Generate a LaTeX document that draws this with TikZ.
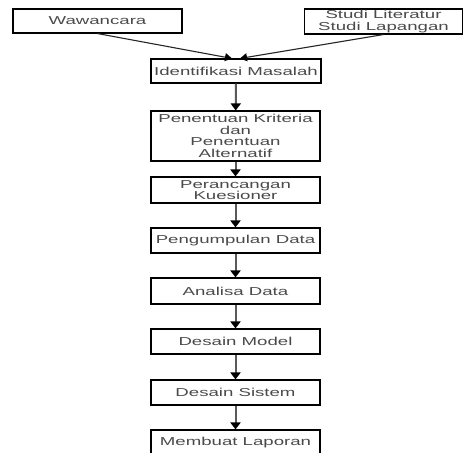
\documentclass[tikz,border=0pt]{standalone}
\usepackage{fontspec}
\setmainfont{Liberation Sans}[FakeStretch=1.62]
\usetikzlibrary{arrows.meta}
\definecolor{txt}{HTML}{4A4A4A}
\definecolor{shaft}{HTML}{5A5A5A}
\begin{document}
\begin{tikzpicture}[x=1pt,y=-1pt,
  box/.style={draw=black,line width=1.1pt,fill=white,inner sep=0pt,align=center,
    text=txt,font=\fontsize{11.5}{11.5}\selectfont,minimum height=24pt},
  flow/.style={draw=shaft,line width=2pt,-{Triangle[length=7pt,width=10pt,black]}},
  conv/.style={draw=black!85,line width=1.1pt,-{Triangle[length=7pt,width=8pt,black]}}]
\useasboundingbox (0,0) rectangle (464,453);
\clip (0,0) rectangle (464,453);
\node[box,minimum width=169pt] (w) at (97.5,21) {Wawancara};
\node[box,minimum width=158pt,minimum height=25pt] (s) at (383.5,21.5) {Studi Literatur\\Studi Lapangan};
\node[box,minimum width=170pt] (id) at (236,71) {Identifikasi Masalah};
\node[box,minimum width=169pt,minimum height=50pt] (pk) at (235.5,136) {Penentuan Kriteria\\dan\\Penentuan\\Alternatif};
\node[box,minimum width=169pt,minimum height=26pt] (pr) at (235.5,190) {Perancangan\\Kuesioner};
\node[box,minimum width=169pt,minimum height=25pt] (pd) at (235.5,240.5) {Pengumpulan Data};
\node[box,minimum width=169pt,minimum height=26pt] (ad) at (235.5,291) {Analisa Data};
\node[box,minimum width=169pt,minimum height=25pt] (dm) at (235.5,341.5) {Desain Model};
\node[box,minimum width=169pt,minimum height=25pt] (ds) at (235.5,392.5) {Desain Sistem};
\node[box,minimum width=169pt,minimum height=25pt] (ml) at (235.5,442.5) {Membuat Laporan};
\coordinate (inl) at ([xshift=-4pt]id.north);
\coordinate (inr) at ([xshift=4pt]id.north);
\draw[conv] (w.south) -- (inl);
\draw[conv] (s.south) -- (inr);
\draw[flow] (id) -- (pk);
\draw[flow] (pk) -- (pr);
\draw[flow] (pr) -- (pd);
\draw[flow] (pd) -- (ad);
\draw[flow] (ad) -- (dm);
\draw[flow] (dm) -- (ds);
\draw[flow] (ds) -- (ml);
\end{tikzpicture}
\end{document}
